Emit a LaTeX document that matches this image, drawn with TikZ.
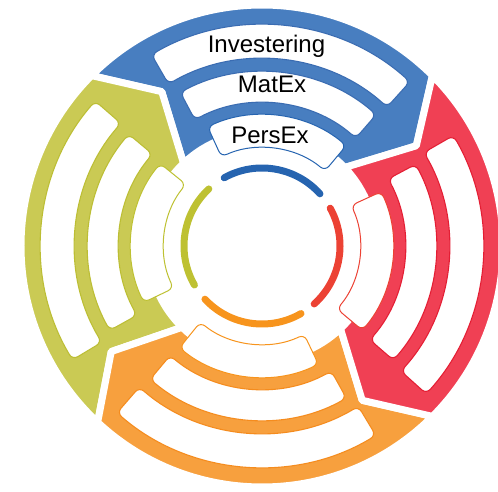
\documentclass[tikz,border=0pt]{standalone}
\usepackage{fontspec}
\setmainfont{Liberation Sans}
\usepackage{tikz}
\usetikzlibrary{calc}

\definecolor{blueSec}{RGB}{72,126,192}
\definecolor{blueDark}{RGB}{58,108,178}
\definecolor{blueRing}{RGB}{38,100,176}
\definecolor{greenSec}{RGB}{202,202,84}
\definecolor{greenDark}{RGB}{188,190,52}
\definecolor{greenRing}{RGB}{190,193,50}
\definecolor{orangeSec}{RGB}{247,160,62}
\definecolor{orangeDark}{RGB}{245,140,30}
\definecolor{orangeRing}{RGB}{247,148,29}
\definecolor{redSec}{RGB}{240,64,84}
\definecolor{redDark}{RGB}{228,30,52}
\definecolor{redRing}{RGB}{236,66,52}

\begin{document}
\begin{tikzpicture}[x=1pt,y=1pt,line join=round,
    sector/.style={fill=#1,draw=white,line width=7pt},
    slot/.style={fill=white,draw=#1,line width=1.1pt,rounded corners=6pt},
    core/.style={fill=white,draw=#1,line width=1pt,rounded corners=6pt},
    hub/.style={draw=#1,line width=7pt,line cap=round},
    word/.style={font=\fontsize{24}{28}\selectfont,anchor=base}]
  \useasboundingbox (0,0) rectangle (498,491);
  \begin{scope}[shift={(262,245)}]
    % four coloured sectors, the white stroke makes the gaps
    \foreach \lo/\hi/\col in {45/135/blueSec,135/227/greenSec,227/315/orangeSec,-45/45/redSec}
      \draw[sector=\col] (\lo:241) arc[start angle=\lo,end angle=\hi,radius=241]
        -- (\hi-12:184) -- (\hi-1.5:114)
        arc[start angle=\hi-1.5,end angle=\lo-1.5,radius=114]
        -- (\lo-12:184) -- cycle;
    % three slots per sector and the inner ring
    \foreach \a/\dk/\rg in {90/blueDark/blueRing,181/greenDark/greenRing,271/orangeDark/orangeRing,0/redDark/redRing}{
      \draw[slot=\dk] (\a-42:187) arc[start angle=\a-42,end angle=\a+30,radius=187]
        -- (\a+30:221) arc[start angle=\a+30,end angle=\a-42,radius=221] -- cycle;
      \draw[slot=\dk] (\a-41:143) arc[start angle=\a-41,end angle=\a+28,radius=143]
        -- (\a+28:174) arc[start angle=\a+28,end angle=\a-41,radius=174] -- cycle;
      \draw[core=\rg] (\a-40:98) arc[start angle=\a-40,end angle=\a+24.5,radius=98]
        -- (\a+24.5:131) arc[start angle=\a+24.5,end angle=\a-40,radius=131] -- cycle;
      \draw[hub=\rg] (\a-48:78) arc[start angle=\a-48,end angle=\a+29,radius=78];
    }
  \end{scope}
  \node[word] (invest) at (266.5,438) {Investering};
  \node[word] (matex) at (272,398) {MatEx};
  \node[word] (persex) at (270,348) {PersEx};
\end{tikzpicture}
\end{document}
